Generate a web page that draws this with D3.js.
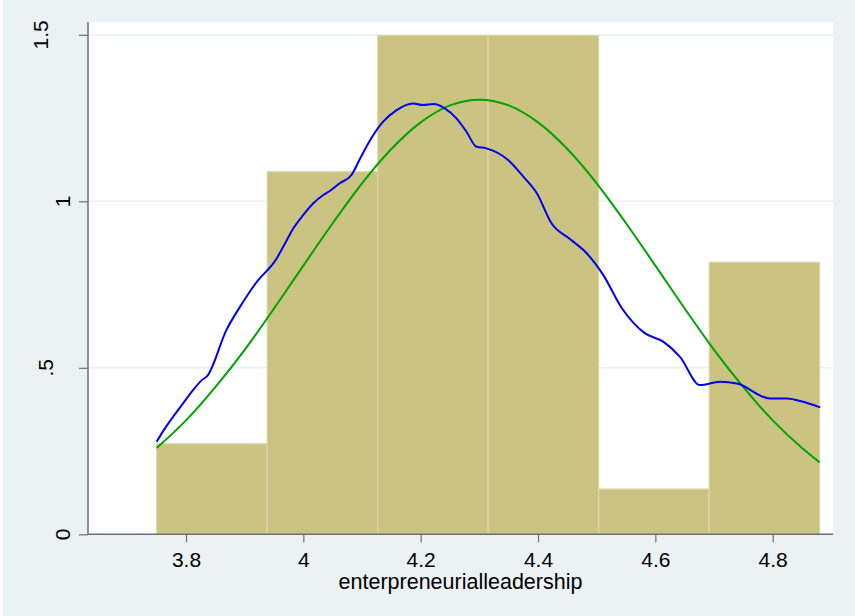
<!DOCTYPE html>
<html>
<head>
<meta charset="utf-8">
<script src="https://cdn.jsdelivr.net/npm/d3@7"></script>
<style>
  body { margin: 0; background: #ffffff; }
  text { font-family: "Liberation Sans", Arial, sans-serif; }
</style>
</head>
<body>
<script>
const width = 855;
const height = 616;

// histogram bins (density)
const binEdges = [3.75, 3.9383, 4.1267, 4.315, 4.5033, 4.6917, 4.88];
const binDensity = [0.272, 1.089, 1.498, 1.498, 0.136, 0.817];

// kernel density (blue)
const kdX = [3.750, 3.764, 3.778, 3.795, 3.812, 3.827, 3.836, 3.869, 3.892, 3.921,
  3.953, 3.966, 3.983, 4.000, 4.017, 4.034, 4.045, 4.062, 4.082, 4.097,
  4.114, 4.136, 4.159, 4.187, 4.204, 4.222, 4.241, 4.261, 4.278, 4.295,
  4.312, 4.349, 4.375, 4.398, 4.423, 4.455, 4.483, 4.511, 4.543, 4.582,
  4.614, 4.642, 4.676, 4.710, 4.739, 4.795, 4.824, 4.852, 4.881];
const kdY = [0.278, 0.318, 0.353, 0.393, 0.433, 0.463, 0.475, 0.614, 0.683, 0.759,
  0.824, 0.864, 0.919, 0.959, 0.994, 1.019, 1.031, 1.054, 1.079, 1.129,
  1.184, 1.239, 1.274, 1.294, 1.289, 1.292, 1.279, 1.249, 1.209, 1.164,
  1.159, 1.124, 1.074, 1.024, 0.934, 0.886, 0.844, 0.779, 0.679, 0.604,
  0.578, 0.533, 0.448, 0.458, 0.453, 0.408, 0.408, 0.398, 0.381];

// normal density (green)
const nmX = [3.75, 3.80, 3.85, 3.90, 3.95, 4.00, 4.05, 4.10, 4.15, 4.20, 4.25, 4.30,
  4.35, 4.40, 4.45, 4.50, 4.55, 4.60, 4.65, 4.70, 4.75, 4.80, 4.85, 4.88];
const nmY = [0.259, 0.342, 0.442, 0.554, 0.678, 0.807, 0.934, 1.054, 1.157, 1.237, 1.288, 1.305,
  1.288, 1.237, 1.157, 1.054, 0.934, 0.807, 0.678, 0.554, 0.442, 0.342, 0.259, 0.216];

const xTicks = [3.8, 4, 4.2, 4.4, 4.6, 4.8];
const yTicks = [0, 0.5, 1, 1.5];
const yTickLabels = ["0", ".5", "1", "1.5"];
const xTitle = "enterpreneurialleadership";

// Stata puts the rotated labels at odd offsets; baseline x per label
const yLabelBase = { "0": 70, ".5": 53, "1": 70, "1.5": 48 };

const plot = { left: 88, right: 833, top: 22, bottom: 534.3 };
const bg = "#eaf2f3";
const axisColor = "#6e6e6e";

const x = d3.scaleLinear().domain([3.8, 4.8]).range([186, 772.7]);
const y = d3.scaleLinear().domain([0, 1.5]).range([534.3, 34.8]);

const svg = d3.select("body").append("svg")
  .attr("width", width)
  .attr("height", height);

// graph region
svg.append("rect").attr("x", 3).attr("y", 0)
  .attr("width", width - 3).attr("height", height).attr("fill", bg);

// plot region
svg.append("rect")
  .attr("x", plot.left).attr("y", plot.top)
  .attr("width", plot.right - plot.left).attr("height", plot.bottom - plot.top)
  .attr("fill", "#ffffff");

// grid lines
svg.append("g").selectAll("line")
  .data(yTicks.filter(d => d > 0))
  .join("line")
  .attr("x1", plot.left).attr("x2", plot.right)
  .attr("y1", d => y(d)).attr("y2", d => y(d))
  .attr("stroke", bg).attr("stroke-width", 1.6);

// bars
const bins = binDensity.map((v, i) => ({ x0: binEdges[i], x1: binEdges[i + 1], v }));
svg.append("g").selectAll("rect")
  .data(bins)
  .join("rect")
  .attr("x", d => x(d.x0))
  .attr("y", d => y(d.v))
  .attr("width", d => x(d.x1) - x(d.x0))
  .attr("height", d => y(0) - y(d.v))
  .attr("fill", "#cbc382")
  .attr("stroke", "#ddd7a8")
  .attr("stroke-width", 1.2);

// curves
const line = d3.line().x(d => x(d[0])).y(d => y(d[1]));

svg.append("path")
  .datum(nmX.map((v, i) => [v, nmY[i]]))
  .attr("d", line.curve(d3.curveMonotoneX))
  .attr("fill", "none")
  .attr("stroke", "#00a300")
  .attr("stroke-width", 2);

svg.append("path")
  .datum(kdX.map((v, i) => [v, kdY[i]]))
  .attr("d", d3.line().x(d => x(d[0])).y(d => y(d[1])).curve(d3.curveMonotoneX))
  .attr("fill", "none")
  .attr("stroke", "#0000f0")
  .attr("stroke-width", 2);

// x axis
const xAxis = svg.append("g")
  .attr("transform", `translate(0,${plot.bottom})`)
  .call(d3.axisBottom(x).tickValues(xTicks).tickSize(8).tickFormat(d3.format("")));
xAxis.select(".domain").remove();
xAxis.selectAll(".tick line").attr("stroke", axisColor).attr("stroke-width", 1.2);
xAxis.selectAll(".tick text")
  .attr("y", 33).attr("dy", 0)
  .attr("font-size", 21)
  .attr("font-family", "Liberation Sans, Arial, sans-serif")
  .attr("fill", "#000");
xAxis.append("line")
  .attr("x1", plot.left).attr("x2", plot.right)
  .attr("stroke", axisColor).attr("stroke-width", 1.5);

// y axis
const yAxis = svg.append("g")
  .attr("transform", `translate(${plot.left},0)`)
  .call(d3.axisLeft(y).tickValues(yTicks).tickSize(9).tickFormat((d, i) => yTickLabels[i]));
yAxis.select(".domain").remove();
yAxis.selectAll(".tick line").attr("stroke", axisColor).attr("stroke-width", 1.2);
yAxis.selectAll(".tick text").remove();
yAxis.append("line")
  .attr("y1", plot.top).attr("y2", plot.bottom)
  .attr("stroke", axisColor).attr("stroke-width", 1.5);

svg.append("g").selectAll("text")
  .data(yTicks)
  .join("text")
  .attr("transform", (d, i) => `translate(${yLabelBase[yTickLabels[i]]},${y(d)}) rotate(-90)`)
  .attr("text-anchor", "middle")
  .attr("font-size", 21)
  .attr("fill", "#000")
  .text((d, i) => yTickLabels[i]);

// x title
svg.append("text")
  .attr("x", (plot.left + plot.right) / 2)
  .attr("y", 588.5)
  .attr("text-anchor", "middle")
  .attr("font-size", 21.5)
  .attr("fill", "#000")
  .text(xTitle);
</script>
</body>
</html>
